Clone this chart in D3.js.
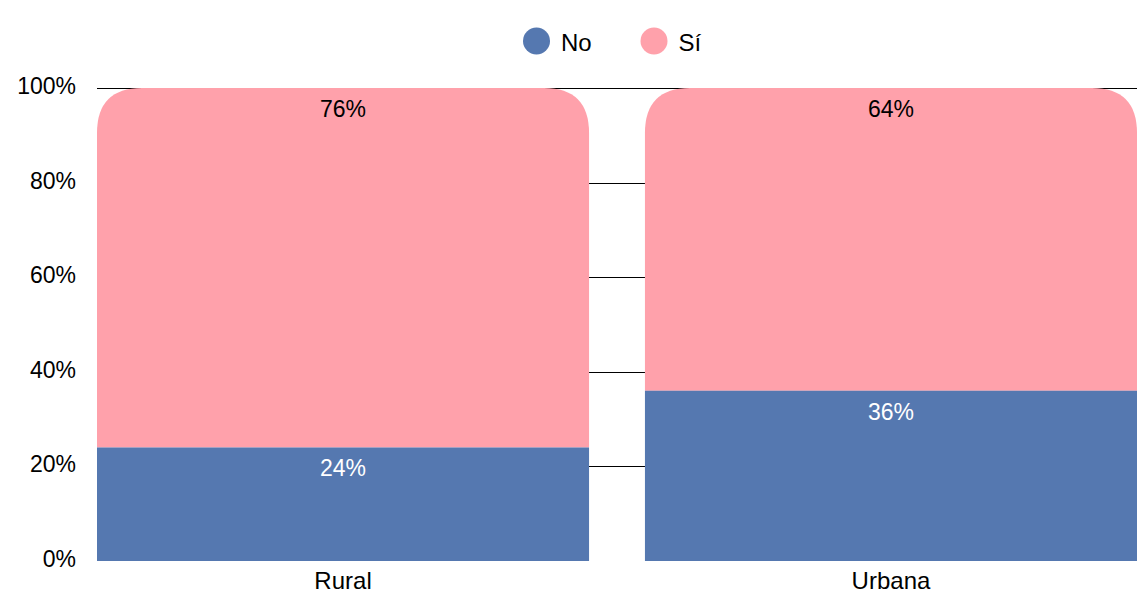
<!DOCTYPE html>
<html><head><meta charset="utf-8">
<script src="https://cdn.jsdelivr.net/npm/d3@7/dist/d3.min.js"></script>
<style>body{margin:0;background:#fff;}svg{display:block;font-family:"Liberation Sans",Arial,sans-serif;}</style>
</head><body>
<svg id="c" width="1139" height="596"></svg>
<script>
const categories = ["Rural", "Urbana"];
const seriesNames = ["No", "Sí"];
const noValues = [24, 36];
const siValues = [76, 64];
const yTicks = [0, 20, 40, 60, 80, 100];
const colors = ["#5578b0", "#ffa1ab"];

(function () {
const svg = d3.select("#c");
const mLeft = 97, mRight = 1137, mTop = 88, mBottom = 561;
const fs = 23;
const x = d3.scaleBand().domain(categories).range([mLeft, mRight]).paddingInner(0.102).paddingOuter(0);
const y = d3.scaleLinear().domain([0, 100]).range([mBottom, mTop]);

// gridlines
svg.append("g").selectAll("line").data(yTicks.filter(d => d > 0)).join("line")
  .attr("x1", mLeft).attr("x2", mRight)
  .attr("y1", d => Math.round(y(d)) + 0.5).attr("y2", d => Math.round(y(d)) + 0.5)
  .attr("stroke", "#000").attr("stroke-width", 1);

const data = categories.map((c, i) => ({ c, no: noValues[i], si: siValues[i] }));
const bw = x.bandwidth();
const r = 45;

// Sí segments (top, rounded top corners)
svg.append("g").selectAll("path").data(data).join("path")
  .attr("fill", colors[1])
  .attr("d", d => {
    const x0 = x(d.c), x1 = x0 + bw, yt = y(d.no + d.si), yb = y(d.no);
    return `M${x0},${yb}L${x0},${yt + r}Q${x0},${yt} ${x0 + r},${yt}L${x1 - r},${yt}Q${x1},${yt} ${x1},${yt + r}L${x1},${yb}Z`;
  });
// No segments
svg.append("g").selectAll("rect").data(data).join("rect")
  .attr("fill", colors[0])
  .attr("x", d => x(d.c)).attr("width", bw)
  .attr("y", d => y(d.no)).attr("height", d => y(0) - y(d.no));

// value labels
const lab = svg.append("g").attr("font-size", fs).attr("text-anchor", "middle");
lab.selectAll("text.no").data(data).join("text").attr("class", "no")
  .attr("x", d => x(d.c) + bw / 2).attr("y", d => y(d.no) + 29)
  .attr("fill", "#fff").text(d => d.no + "%");
lab.selectAll("text.si").data(data).join("text").attr("class", "si")
  .attr("x", d => x(d.c) + bw / 2).attr("y", d => y(d.no + d.si) + 29)
  .attr("fill", "#000").text(d => d.si + "%");

// y axis
const ya = svg.append("g").attr("transform", `translate(${mLeft},0)`)
  .call(d3.axisLeft(y).tickValues(yTicks).tickFormat(d => d + "%").tickSize(0).tickPadding(21));
ya.select(".domain").remove();
ya.selectAll("text").attr("font-size", fs).attr("fill", "#000").attr("dy", "0.24em")
  .attr("font-family", "Liberation Sans, Arial, sans-serif");

// x axis
const xa = svg.append("g").attr("transform", `translate(0,${mBottom})`)
  .call(d3.axisBottom(x).tickSize(0).tickPadding(11));
xa.select(".domain").remove();
xa.selectAll("text").attr("font-size", 24).attr("fill", "#000").attr("font-family", "Liberation Sans, Arial, sans-serif");

// legend
const leg = svg.append("g").attr("font-size", 24);
const lx = [536.5, 654];
seriesNames.forEach((s, i) => {
  leg.append("circle").attr("cx", lx[i]).attr("cy", 41).attr("r", 13.5).attr("fill", colors[i]);
  leg.append("text").attr("x", lx[i] + 24.5).attr("y", 51).attr("fill", "#000").text(s);
});
})();
</script>
</body></html>
